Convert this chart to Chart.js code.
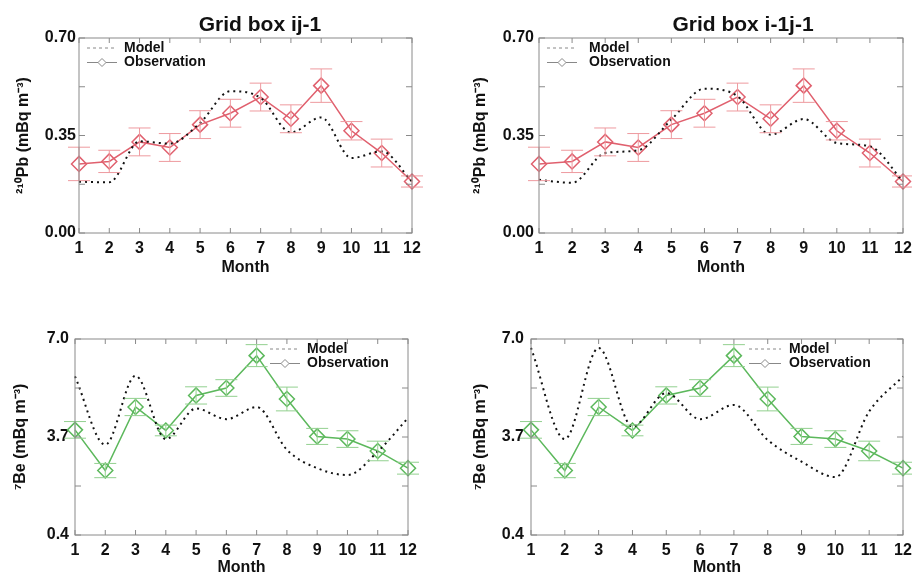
<!DOCTYPE html>
<html>
<head>
<meta charset="utf-8">
<script src="https://cdn.jsdelivr.net/npm/chart.js@4"></script>
<style>
  body { margin: 0; background: #fff; width: 912px; height: 573px; overflow: hidden; position: relative; }
  canvas { position: absolute; }
</style>
</head>
<body>
<canvas id="c1"></canvas>
<canvas id="c2"></canvas>
<canvas id="c3"></canvas>
<canvas id="c4"></canvas>
<script>
const months = ['1', '2', '3', '4', '5', '6', '7', '8', '9', '10', '11', '12'];

// 210Pb
const pbObs = [0.248, 0.257, 0.327, 0.307, 0.389, 0.430, 0.488, 0.410, 0.529, 0.367, 0.287, 0.185];
const pbErr = [0.06, 0.04, 0.05, 0.05, 0.05, 0.05, 0.05, 0.05, 0.06, 0.033, 0.05, 0.02];
const pbModelA = [0.184, 0.182, 0.329, 0.321, 0.395, 0.509, 0.485, 0.361, 0.415, 0.269, 0.293, 0.185];
const pbModelB = [0.191, 0.180, 0.287, 0.297, 0.407, 0.518, 0.491, 0.353, 0.409, 0.323, 0.311, 0.185];
const pbTicks = [0, 0.175, 0.35, 0.525, 0.70];
const pbLabels = [0, 0.35, 0.70];

// 7Be
const beObs = [3.94, 2.57, 4.71, 3.92, 5.10, 5.35, 6.44, 4.98, 3.72, 3.63, 3.23, 2.65];
const beErr = [0.28, 0.24, 0.29, 0.18, 0.29, 0.28, 0.37, 0.40, 0.27, 0.28, 0.33, 0.20];
const beModelA = [5.74, 3.44, 5.76, 3.63, 4.66, 4.30, 4.71, 3.27, 2.65, 2.42, 3.21, 4.34];
const beModelB = [6.70, 3.63, 6.70, 4.05, 5.18, 4.30, 4.78, 3.60, 2.87, 2.35, 4.56, 5.74];
const beTicks = [0.4, 2.05, 3.7, 5.35, 7.0];
const beLabels = [0.4, 3.7, 7.0];

const FONT = 'Liberation Sans, Arial, sans-serif';

// error bars on the observation dataset
const errorBars = {
  id: 'errorBars',
  afterDatasetsDraw(chart, args, opts) {
    const {ctx, scales: {x, y}} = chart;
    const ds = chart.data.datasets[1];
    ctx.save();
    ctx.strokeStyle = opts.color;
    ctx.lineWidth = 1;
    ds.data.forEach((v, i) => {
      const px = x.getPixelForValue(i);
      const top = y.getPixelForValue(v + opts.err[i]);
      const bot = y.getPixelForValue(v - opts.err[i]);
      ctx.beginPath();
      ctx.moveTo(px, top); ctx.lineTo(px, bot);
      ctx.moveTo(px - 11, top); ctx.lineTo(px + 11, top);
      ctx.moveTo(px - 11, bot); ctx.lineTo(px + 11, bot);
      ctx.stroke();
    });
    ctx.restore();
  }
};

// frame with inward ticks, panel title, legend
const frame = {
  id: 'frame',
  afterDraw(chart, args, opts) {
    const {ctx, chartArea: a, scales: {x, y}} = chart;
    ctx.save();
    ctx.strokeStyle = '#8a8a8a';
    ctx.lineWidth = 1;
    ctx.strokeRect(a.left, a.top, a.right - a.left, a.bottom - a.top);
    ctx.beginPath();
    x.ticks.forEach((t, i) => {
      const px = x.getPixelForTick(i);
      ctx.moveTo(px, a.bottom); ctx.lineTo(px, a.bottom - 5);
      ctx.moveTo(px, a.top); ctx.lineTo(px, a.top + 5);
    });
    y.ticks.forEach((t) => {
      const py = y.getPixelForValue(t.value);
      ctx.moveTo(a.left, py); ctx.lineTo(a.left + 6, py);
      ctx.moveTo(a.right, py); ctx.lineTo(a.right - 6, py);
    });
    ctx.stroke();

    if (opts.title) {
      ctx.fillStyle = '#111';
      ctx.font = 'bold 21px ' + FONT;
      ctx.textAlign = 'center';
      ctx.textBaseline = 'middle';
      ctx.fillText(opts.title, opts.titleX, 25);
    }

    // legend
    const lx0 = a.left + opts.leg[0], lx1 = a.left + opts.leg[1], tx = a.left + opts.leg[2];
    const ly0 = a.top + 10, ly1 = a.top + 24.5;
    ctx.strokeStyle = '#888';
    ctx.lineWidth = 1;
    ctx.setLineDash([3, 3]);
    ctx.beginPath(); ctx.moveTo(lx0, ly0); ctx.lineTo(lx1, ly0); ctx.stroke();
    ctx.setLineDash([]);
    ctx.beginPath(); ctx.moveTo(lx0, ly1); ctx.lineTo(lx1, ly1); ctx.stroke();
    const cx = (lx0 + lx1) / 2;
    ctx.fillStyle = '#fff';
    ctx.beginPath();
    ctx.moveTo(cx, ly1 - 4); ctx.lineTo(cx + 4, ly1); ctx.lineTo(cx, ly1 + 4); ctx.lineTo(cx - 4, ly1); ctx.closePath();
    ctx.fill(); ctx.stroke();
    ctx.fillStyle = '#111';
    ctx.font = 'bold 14px ' + FONT;
    ctx.textAlign = 'left';
    ctx.textBaseline = 'middle';
    ctx.fillText('Model', tx, ly0);
    ctx.fillText('Observation', tx, ly1);
    ctx.restore();
  }
};

function makePanel(id, pos, p) {
  const cv = document.getElementById(id);
  cv.style.left = pos.left + 'px';
  cv.style.top = pos.top + 'px';
  cv.style.width = pos.w + 'px';
  cv.style.height = pos.h + 'px';
  cv.width = pos.w;
  cv.height = pos.h;
  return new Chart(cv.getContext('2d'), {
    type: 'line',
    data: {
      labels: months,
      datasets: [{
        label: 'Model',
        data: p.model,
        borderColor: '#111',
        borderWidth: 2,
        borderDash: [2, 4],
        pointRadius: 0,
        cubicInterpolationMode: 'monotone',
        fill: false
      }, {
        label: 'Observation',
        data: p.obs,
        borderColor: p.color,
        borderWidth: 1.5,
        pointStyle: 'rectRot',
        pointRadius: 7.5,
        pointBorderWidth: 1.5,
        pointBackgroundColor: 'rgba(255,255,255,0)',
        pointBorderColor: p.color,
        tension: 0,
        fill: false
      }]
    },
    options: {
      responsive: false,
      animation: false,
      devicePixelRatio: 1,
      layout: { padding: { left: p.padL, right: p.padR, top: p.top, bottom: 0 } },
      plugins: {
        legend: { display: false },
        tooltip: { enabled: false },
        errorBars: { err: p.err, color: p.errColor },
        frame: { title: p.title, titleX: p.titleX, leg: p.leg }
      },
      scales: {
        x: {
          offset: false,
          grid: { display: false, drawTicks: false },
          border: { display: false },
          ticks: { color: '#111', padding: 6, maxRotation: 0, autoSkip: false,
                   font: { family: FONT, size: 16, weight: 'bold' } },
          title: { display: true, text: 'Month', color: '#111', padding: { top: 0, bottom: p.monthPad },
                   font: { family: FONT, size: 16, weight: 'bold', lineHeight: 1 } },
          afterFit: (s) => { s.height = p.xh; s.paddingLeft = 0; s.paddingRight = 0; }
        },
        y: {
          min: p.ticks[0],
          max: p.ticks[p.ticks.length - 1],
          grid: { display: false, drawTicks: false },
          border: { display: false },
          afterBuildTicks: (s) => { s.ticks = p.ticks.map(v => ({ value: v })); },
          ticks: {
            color: '#111', padding: p.tickPad,
            font: { family: FONT, size: 16, weight: 'bold' },
            callback: (v) => p.labels.some(l => Math.abs(l - v) < 1e-6) ? v.toFixed(p.dec) : ''
          },
          title: { display: true, text: p.ytitle, color: '#111', padding: 0,
                   font: { family: FONT, size: 16, weight: 'bold' } },
          afterFit: (s) => { s.width = p.yw; }
        }
      }
    },
    plugins: [errorBars, frame]
  });
}

const red = '#e0606e', redErr = '#ee9a9f';
const green = '#5cb85c', greenErr = '#92d08f';

makePanel('c1', { left: 0, top: 0, w: 456, h: 286 }, {
  model: pbModelA, obs: pbObs, err: pbErr, color: red, errColor: redErr,
  ticks: pbTicks, labels: pbLabels, dec: 2, ytitle: '²¹⁰Pb (mBq m⁻³)',
  title: 'Grid box ij-1', titleX: 260, leg: [8, 38, 45],
  padL: 14, yw: 65, padR: 44, top: 38, xh: 53, tickPad: 3, monthPad: 10
});
makePanel('c2', { left: 456, top: 0, w: 456, h: 286 }, {
  model: pbModelB, obs: pbObs, err: pbErr, color: red, errColor: redErr,
  ticks: pbTicks, labels: pbLabels, dec: 2, ytitle: '²¹⁰Pb (mBq m⁻³)',
  title: 'Grid box i-1j-1', titleX: 287, leg: [8, 38, 50],
  padL: 15, yw: 68, padR: 9, top: 38, xh: 53, tickPad: 5, monthPad: 10
});
makePanel('c3', { left: 0, top: 286, w: 456, h: 287 }, {
  model: beModelA, obs: beObs, err: beErr, color: green, errColor: greenErr,
  ticks: beTicks, labels: beLabels, dec: 1, ytitle: '⁷Be (mBq m⁻³)',
  title: '', titleX: 0, leg: [195, 225, 232],
  padL: 11, yw: 64, padR: 48, top: 53, xh: 38, tickPad: 6, monthPad: -3
});
makePanel('c4', { left: 456, top: 286, w: 456, h: 287 }, {
  model: beModelB, obs: beObs, err: beErr, color: green, errColor: greenErr,
  ticks: beTicks, labels: beLabels, dec: 1, ytitle: '⁷Be (mBq m⁻³)',
  title: '', titleX: 0, leg: [218, 250, 258],
  padL: 15, yw: 60, padR: 9, top: 53, xh: 38, tickPad: 7, monthPad: -3
});
</script>
</body>
</html>
